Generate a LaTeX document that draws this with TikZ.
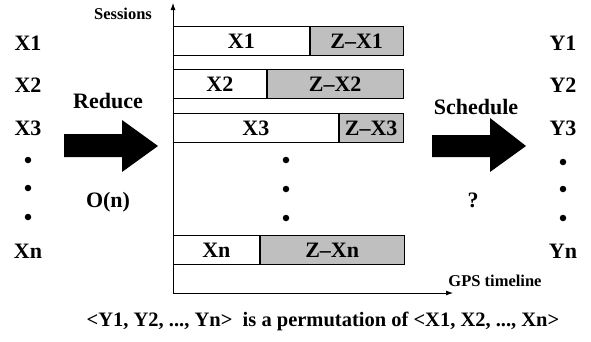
\documentclass[tikz,border=0pt]{standalone}
\usepackage{fontspec}
\setmainfont{Liberation Serif}
\usetikzlibrary{arrows.meta}

\tikzset{
  lbl/.style={font=\fontsize{22}{24}\selectfont\bfseries},
  axlbl/.style={font=\fontsize{16.5}{18}\selectfont\bfseries},
  bar/.style={draw, line width=0.8pt, minimum height=29pt, inner sep=0pt,
    anchor=west, font=\fontsize{22}{24}\selectfont\bfseries},
  rest/.style={bar, fill=black!25},
  dot/.style={circle, fill=black, inner sep=0pt, minimum size=6.5pt},
  axis/.style={line width=0.8pt, -{Latex[length=7pt,width=5pt]}},
}

\begin{document}
\begin{tikzpicture}[x=1pt,y=-1pt]
\useasboundingbox (0,0) rectangle (591,341);

% inputs
\node[lbl] (x1) at (28,43)  {X1};
\node[lbl] (x2) at (28,85)  {X2};
\node[lbl] (x3) at (28,128) {X3};
\node[dot] (xd1) at (28,160) {};
\node[dot] (xd2) at (28,188) {};
\node[dot] (xd3) at (28,217) {};
\node[lbl] (xn) at (28,251) {Xn};

% reduce
\node[lbl] (red) at (108,101) {Reduce};
\node[lbl] (on)  at (108,202) {O(n)};
\fill (64,134) -- (122,134) -- (122,120) -- (158,146) -- (122,172)
  -- (122,157) -- (64,157) -- cycle;

% sessions on the GPS timeline
\coordinate (o)    at (173,293);
\coordinate (ytop) at (173,3);
\coordinate (xend) at (453,293);
\draw[axis] (o) -- (ytop);
\draw[axis] (o) -- (xend);
\node[axlbl] (ses) at (123,14)  {Sessions};
\node[axlbl] (gps) at (495,281) {GPS timeline};

\node[bar,  minimum width=136] (s1) at (173,41)  {X1};
\node[rest, minimum width=93]  (z1) at (s1.east) {Z–X1};
\node[bar,  minimum width=93]  (s2) at (173,84)  {X2};
\node[rest, minimum width=136] (z2) at (s2.east) {Z–X2};
\node[bar,  minimum width=165] (s3) at (173,128) {X3};
\node[rest, minimum width=64]  (z3) at (s3.east) {Z–X3};
\node[dot] (sd1) at (286,160) {};
\node[dot] (sd2) at (286,189) {};
\node[dot] (sd3) at (286,218) {};
\node[bar,  minimum width=86]  (sn) at (173,250) {Xn};
\node[rest, minimum width=144] (zn) at (sn.east) {Z–Xn};

% schedule
\node[lbl] (sch) at (476,107) {Schedule};
\node[lbl] (q)   at (473,200) {?};
\fill (432,135) -- (490,135) -- (490,118) -- (526,146) -- (490,172)
  -- (490,157) -- (432,157) -- cycle;

% outputs
\node[lbl] (y1) at (563,43)  {Y1};
\node[lbl] (y2) at (563,85)  {Y2};
\node[lbl] (y3) at (563,128) {Y3};
\node[dot] (yd1) at (563,162) {};
\node[dot] (yd2) at (563,189) {};
\node[dot] (yd3) at (563,218) {};
\node[lbl] (yn) at (563,251) {Yn};

\node[lbl, font=\fontsize{20.5}{22}\selectfont\bfseries] (perm) at (323,321)
  {<Y1, Y2, ..., Yn>\ \ is a permutation of <X1, X2, ..., Xn>};
\end{tikzpicture}
\end{document}
